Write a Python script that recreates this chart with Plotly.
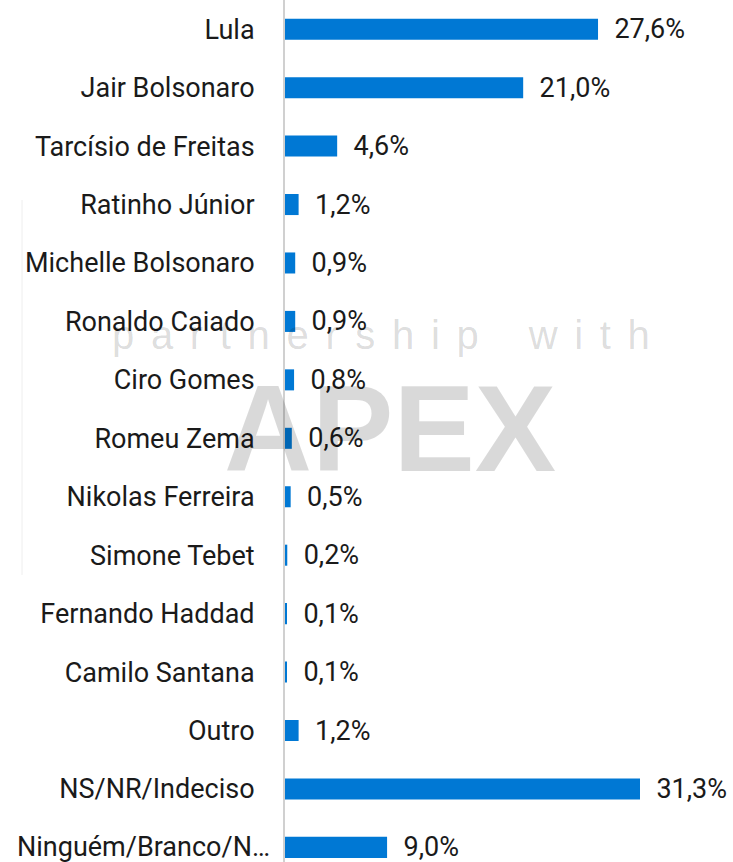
import plotly.graph_objects as go

# dados da pesquisa (ordem de cima para baixo)
candidatos = [
    "Lula", "Jair Bolsonaro", "Tarcísio de Freitas", "Ratinho Júnior",
    "Michelle Bolsonaro", "Ronaldo Caiado", "Ciro Gomes", "Romeu Zema",
    "Nikolas Ferreira", "Simone Tebet", "Fernando Haddad", "Camilo Santana",
    "Outro", "NS/NR/Indeciso", "Ninguém/Branco/N…",
]
percentuais = [27.6, 21.0, 4.6, 1.2, 0.9, 0.9, 0.8, 0.6, 0.5, 0.2, 0.1, 0.1, 1.2, 31.3, 9.0]

FONTE = "Roboto, sans-serif"
MARCA = "Liberation Sans, Arial, sans-serif"
# cinza translúcido: claro sobre branco, invisível sobre texto preto
CINZA_MARCA = "rgba(0,0,0,0.15)"

# espaçamento largo entre as letras da marca d'agua
gap = "\u2005\u2006"
marca_texto = (gap * 3).join(gap.join(w) for w in ["partnership", "with"])

# o último rótulo aparece um pouco deslocado para a direita no original
rotulos = candidatos[:-1] + [""]

fig = go.Figure()
fig.add_trace(go.Bar(
    x=percentuais, y=candidatos, orientation="h",
    marker=dict(color="#0078D4", line=dict(width=0)),
    width=0.36,
    texttemplate="  %{x:.1f}%", textposition="outside",
    constraintext="none",
    textfont=dict(family=FONTE, size=27, color="#1a1a1a"),
    cliponaxis=False,
))

fig.add_annotation(
    x=-0.029, y=candidatos[-1], xref="paper", yref="y",
    xanchor="right", yanchor="middle", showarrow=False,
    text=candidatos[-1], font=dict(family=FONTE, size=27, color="#1a1a1a"),
)

# marca d'agua
fig.add_annotation(
    x=0.215, y=0.611, xref="paper", yref="paper", xanchor="center", yanchor="middle",
    text=marca_texto,
    showarrow=False, font=dict(family=MARCA, size=40, color=CINZA_MARCA),
)
fig.add_annotation(
    x=0.234, y=0.502, xref="paper", yref="paper", xanchor="center", yanchor="middle",
    text="<b>APEX</b>",
    showarrow=False, font=dict(family=MARCA, size=122, color=CINZA_MARCA),
)
fig.add_shape(type="line", xref="paper", yref="paper",
              x0=-0.587, x1=-0.587, y0=0.333, y1=0.768,
              line=dict(color="#eeeeee", width=1))

fig.update_layout(
    width=733, height=862,
    margin=dict(l=285, r=0, t=0, b=0),
    plot_bgcolor="white", paper_bgcolor="white",
    separators=",.",
    showlegend=False,
    xaxis=dict(range=[0, 39.5], visible=False, automargin=False),
    yaxis=dict(
        type="category", range=[14.25, -0.5], automargin=False,
        tickmode="array", tickvals=candidatos, ticktext=rotulos,
        showline=True, linecolor="#d0d0d0", linewidth=2,
        showgrid=False, ticks="", ticklabelstandoff=23,
        tickfont=dict(family=FONTE, size=27, color="#1a1a1a"),
    ),
)

# sem a margem padrão do body
fig.write_html("out.html", config={"displayModeBar": False},
               post_script="document.body.style.margin='0';")
